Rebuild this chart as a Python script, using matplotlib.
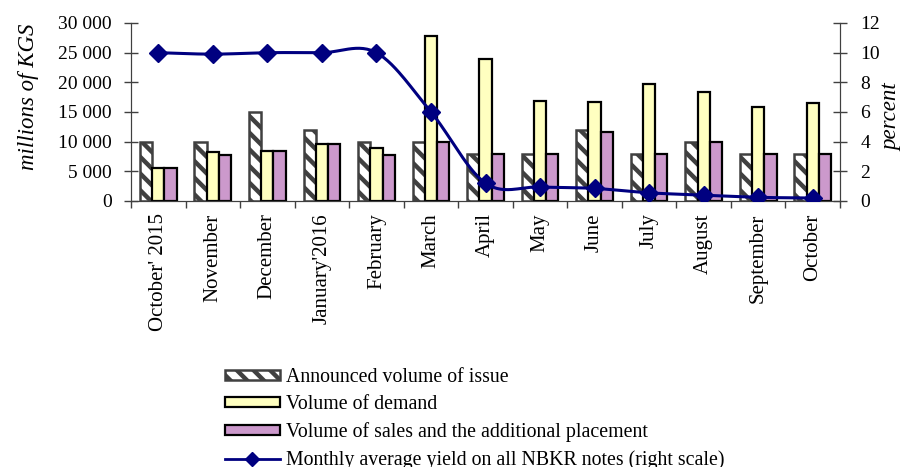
import numpy as np
import matplotlib
matplotlib.use("Agg")
import matplotlib.pyplot as plt
from matplotlib.lines import Line2D
from matplotlib.patches import Patch
from matplotlib.ticker import FuncFormatter, FixedLocator

categories = ["October' 2015", "November", "December", "January'2016", "February",
              "March", "April", "May", "June", "July", "August", "September", "October"]
announced = [10000, 10000, 15000, 12000, 10000, 10000, 8000, 8000, 12000, 8000, 10000, 8000, 8000]
demand = [5500, 8200, 8500, 9600, 9000, 27800, 23900, 16800, 16700, 19800, 18400, 15800, 16500]
sales = [5500, 7800, 8500, 9600, 7700, 10000, 8000, 8000, 11700, 8000, 10000, 8000, 8000]
yield_pct = [10.0, 9.9, 10.0, 10.0, 10.0, 6.0, 1.2, 0.95, 0.85, 0.55, 0.4, 0.25, 0.2]

labels = ["Announced volume of issue", "Volume of demand",
          "Volume of sales and the additional placement",
          "Monthly average yield on all NBKR notes (right scale)"]

plt.rcParams['font.family'] = ['Liberation Serif', 'DejaVu Serif']
plt.rcParams['hatch.linewidth'] = 3.2
FS = 14

fig = plt.figure(figsize=(9.01, 4.67), dpi=100)
W, H = 901, 467
ax = fig.add_axes([131 / W, 1 - 201 / H, (840 - 131) / W, (201 - 23) / H])
ax2 = ax.twinx()

x = np.arange(len(categories))
w = 0.224
HATCH = '\\\\'
ax.bar(x - w, announced, w, color='white', edgecolor='#404040', hatch=HATCH, linewidth=1.8, zorder=2)
ax.bar(x, demand, w, color='#FFFFC0', edgecolor='black', linewidth=1.6, zorder=2)
ax.bar(x + w, sales, w, color='#CC99CC', edgecolor='black', linewidth=1.6, zorder=2)

# smoothed line (Catmull-Rom display smoothing through the data points)
def catmull(xs, ys, n=30):
    xs = np.asarray(xs, float); ys = np.asarray(ys, float)
    px = np.concatenate([[2 * xs[0] - xs[1]], xs, [2 * xs[-1] - xs[-2]]])
    py = np.concatenate([[2 * ys[0] - ys[1]], ys, [2 * ys[-1] - ys[-2]]])
    ox, oy = [], []
    t = np.linspace(0, 1, n)
    for i in range(1, len(px) - 2):
        for p, o in ((px, ox), (py, oy)):
            p0, p1, p2, p3 = p[i - 1], p[i], p[i + 1], p[i + 2]
            o.extend(0.5 * ((2 * p1) + (-p0 + p2) * t + (2 * p0 - 5 * p1 + 4 * p2 - p3) * t ** 2
                            + (-p0 + 3 * p1 - 3 * p2 + p3) * t ** 3))
    return np.array(ox), np.array(oy)

sx, sy = catmull(x, yield_pct)
ax2.plot(sx, sy, color='#000080', lw=2.2, zorder=3)
ax2.plot(x, yield_pct, linestyle='none', marker='D', color='#000080', markersize=9, zorder=4)

ax.set_xlim(-0.5, len(categories) - 0.5)
ax.set_ylim(0, 30000)
ax2.set_ylim(0, 12)
ax.set_yticks(np.arange(0, 30001, 5000))
ax.yaxis.set_major_formatter(FuncFormatter(lambda v, p: f"{int(v):,}".replace(",", " ") if v >= 1000 else f"{int(v)}"))
ax2.set_yticks(np.arange(0, 13, 2))

ax.set_xticks(x)
ax.set_xticklabels(categories, rotation=90, fontsize=15)
ax.tick_params(axis='x', length=0, pad=9)
ax.xaxis.set_minor_locator(FixedLocator(np.arange(-0.5, len(categories), 1.0)))
ax.tick_params(axis='x', which='minor', direction='out', length=5, width=1, color='#404040')
ax.tick_params(axis='y', direction='inout', length=10, width=1, labelsize=FS, color='#404040', pad=9)
ax2.tick_params(axis='y', direction='inout', length=10, width=1, labelsize=FS, color='#404040', pad=9.5)

for a in (ax, ax2):
    a.spines['top'].set_visible(False)
    for s in ('left', 'right', 'bottom'):
        a.spines[s].set_color('#404040')

fig.text(29 / W, 1 - 97 / H, "millions of KGS", fontsize=16.5, style='italic',
         rotation=90, ha='center', va='center')
fig.text(892 / W, 1 - 117 / H, "percent", fontsize=16.5, style='italic',
         rotation=90, ha='center', va='center')

handles = [Patch(facecolor='white', edgecolor='#404040', hatch=HATCH, linewidth=1.8),
           Patch(facecolor='#FFFFC0', edgecolor='black', linewidth=1.6),
           Patch(facecolor='#CC99CC', edgecolor='black', linewidth=1.6),
           Line2D([], [], color='#000080', lw=2, marker='D', markersize=7)]
fig.legend(handles, labels, loc='upper left', bbox_to_anchor=(225 / W, 1 - 368 / H),
           frameon=False, fontsize=14.3, handlelength=2.75, handleheight=0.45,
           handletextpad=0.3, labelspacing=0.41, borderpad=0, borderaxespad=0)

fig.savefig("out.png", dpi=100)
